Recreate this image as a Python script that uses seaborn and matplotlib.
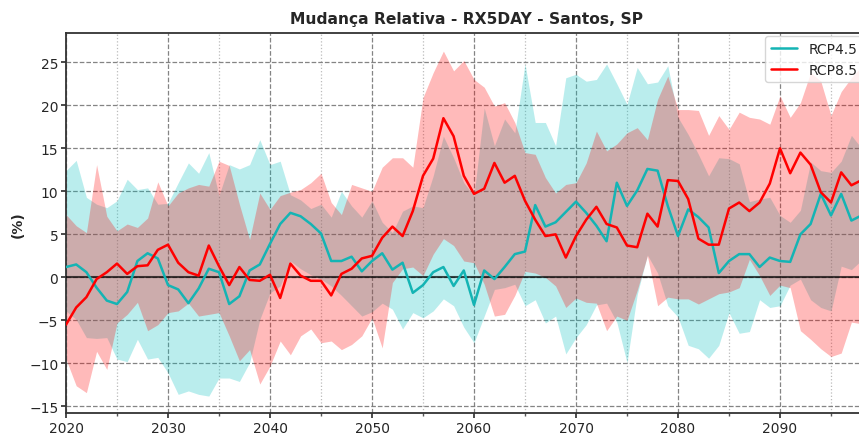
import numpy as np
import pandas as pd
import seaborn as sns
import matplotlib
matplotlib.use("Agg")
import matplotlib.pyplot as plt
from matplotlib.ticker import MultipleLocator

# Anos da projeção
years = list(range(2020, 2099))

# Média do ensemble - RCP4.5 (%)
rcp45_mean = [1.2, 1.5, 0.6, -1.2, -2.7, -3.1, -1.7, 1.9, 2.8, 2.2,
              -0.9, -1.4, -3.0, -1.3, 1.0, 0.6, -3.1, -2.2, 0.8, 1.5,
              3.9, 6.2, 7.5, 7.1, 6.2, 5.1, 1.9, 1.9, 2.4, 0.7,
              1.9, 2.8, 0.9, 1.7, -1.8, -0.9, 0.6, 1.2, -1.0, 0.8,
              -3.2, 0.8, -0.2, 1.2, 2.7, 3.0, 8.4, 5.9, 6.4, 7.6,
              8.8, 7.5, 6.0, 4.2, 11.0, 8.3, 10.1, 12.6, 12.4, 8.3,
              4.8, 7.9, 7.0, 5.8, 0.5, 1.9, 2.7, 2.7, 1.2, 2.3,
              1.9, 1.8, 5.0, 6.2, 9.7, 7.2, 9.7, 6.6, 7.2]

# Média do ensemble - RCP8.5 (%)
rcp85_mean = [-5.5, -3.5, -2.3, -0.2, 0.6, 1.6, 0.4, 1.3, 1.4, 3.2,
              3.8, 1.7, 0.6, 0.2, 3.7, 1.3, -0.9, 1.2, -0.3, -0.4,
              0.3, -2.4, 1.6, 0.2, -0.4, -0.4, -2.1, 0.4, 1.0, 2.2,
              2.5, 4.6, 5.9, 4.8, 7.7, 11.8, 13.8, 18.5, 16.4, 11.8,
              9.7, 10.3, 13.3, 11.0, 11.8, 8.9, 6.7, 4.8, 5.0, 2.3,
              4.8, 6.7, 8.2, 6.2, 5.8, 3.7, 3.5, 7.4, 5.9, 11.3,
              11.2, 9.1, 4.5, 3.8, 3.8, 8.0, 8.7, 7.7, 8.7, 10.9,
              15.0, 12.1, 14.5, 13.1, 9.9, 8.7, 12.2, 10.7, 11.3]

# Limites do ensemble - RCP4.5
rcp45_upper = [12.4, 13.6, 9.3, 8.5, 8.1, 8.9, 11.4, 10.2, 10.4, 8.5,
               8.6, 11.0, 13.3, 12.1, 14.5, 9.5, 13.1, 12.6, 13.1, 16.0,
               13.1, 13.5, 9.6, 9.0, 8.0, 8.5, 7.0, 10.0, 8.3, 7.0,
               8.9, 6.4, 5.2, 7.7, 8.3, 8.1, 11.8, 16.4, 13.9, 11.0,
               9.5, 19.7, 15.3, 18.4, 16.8, 24.8, 18.0, 18.0, 15.3, 23.2,
               23.6, 22.8, 23.0, 24.8, 22.5, 20.1, 24.4, 22.5, 22.7, 24.6,
               18.6, 16.6, 14.3, 11.8, 13.9, 13.8, 13.2, 8.8, 9.1, 9.3,
               7.2, 6.4, 7.8, 13.4, 12.4, 12.2, 13.5, 16.5, 15.0]
rcp45_lower = [-3.9, -4.9, -7.0, -7.1, -7.0, -9.5, -9.8, -7.2, -9.5, -9.3,
               -11.1, -13.6, -13.2, -13.6, -13.8, -11.7, -11.7, -12.1, -9.9, -4.9,
               -1.8, -1.0, 1.9, 1.0, 0.3, -0.2, -1.0, -2.1, -3.3, -4.5,
               -4.0, -3.0, -3.7, -6.0, -4.1, -4.7, -3.9, -2.5, -3.3, -5.8,
               -7.6, -4.5, -1.4, -1.2, -0.8, -3.3, -2.6, -5.3, -4.5, -8.9,
               -7.0, -5.5, -3.2, -3.0, -5.2, -9.9, -2.0, 2.6, 0.5, -3.3,
               -4.6, -7.9, -8.3, -9.4, -7.9, -4.1, -6.5, -6.3, -2.6, -3.5,
               -3.3, -0.9, -0.2, -2.6, -3.5, -3.9, 1.3, 0.9, 2.0]

# Limites do ensemble - RCP8.5
rcp85_upper = [7.3, 6.0, 5.2, 13.1, 7.1, 5.4, 6.2, 5.8, 6.9, 11.1,
               8.3, 9.8, 10.4, 10.8, 10.6, 13.5, 13.0, 8.5, 4.4, 9.8,
               7.9, 9.5, 9.9, 10.2, 11.0, 12.1, 8.7, 7.3, 10.8, 10.4,
               10.0, 12.8, 13.9, 13.9, 12.8, 20.9, 23.8, 26.3, 24.0, 25.2,
               23.0, 22.1, 19.9, 20.3, 18.0, 14.5, 14.3, 11.6, 9.8, 10.8,
               11.0, 13.3, 17.0, 14.7, 15.5, 16.8, 17.4, 16.0, 20.7, 23.4,
               19.5, 19.5, 19.4, 16.5, 18.8, 17.2, 19.2, 18.6, 18.4, 17.8,
               21.1, 18.6, 20.3, 23.8, 22.8, 18.8, 21.6, 23.2, 24.5]
rcp85_lower = [-9.5, -12.6, -13.4, -8.6, -10.7, -5.3, -4.3, -2.9, -6.2, -5.5,
               -4.1, -3.9, -3.0, -4.5, -4.3, -4.1, -6.8, -9.7, -8.4, -12.4,
               -10.3, -7.4, -9.0, -6.8, -6.0, -7.6, -7.4, -8.4, -7.8, -6.8,
               -4.7, -8.2, -0.6, 1.0, 1.2, 0.2, 2.7, 4.5, 3.7, 1.9,
               1.7, -0.8, -4.5, -4.3, -2.1, 0.7, 0.5, 0.0, -1.0, -3.5,
               -2.4, -2.9, -3.0, -6.2, -4.5, -5.0, -1.5, 2.5, -3.3, -2.3,
               -2.5, -2.5, -3.1, -2.5, -1.9, -1.7, -1.2, 2.1, 0.2, -2.1,
               -0.9, -1.2, -6.2, -7.2, -8.3, -9.2, -8.8, -5.2, -5.4]

scenarios = ["RCP4.5", "RCP8.5"]
line_colors = {"RCP4.5": "#14b4b4", "RCP8.5": "#ff0000"}
band_colors = {"RCP4.5": "#00bfbf", "RCP8.5": "#ff0000"}

y_ticks = [-15, -10, -5, 0, 5, 10, 15, 20, 25]
x_ticks = [2020, 2030, 2040, 2050, 2060, 2070, 2080, 2090]

df = pd.DataFrame({
    "ano": years * 2,
    "mudanca": rcp45_mean + rcp85_mean,
    "cenario": ["RCP4.5"] * len(years) + ["RCP8.5"] * len(years),
})

sns.set_theme(style="white")
plt.rcParams["font.family"] = ["DejaVu Sans"]

fig = plt.figure(figsize=(8.59, 4.35), dpi=100)
ax = fig.add_axes([66 / 859, 20.7 / 435, 816 / 859, 380.3 / 435])

# Faixas do ensemble
ax.fill_between(years, rcp45_lower, rcp45_upper, color=band_colors["RCP4.5"],
                alpha=0.27, linewidth=0, zorder=1)
ax.fill_between(years, rcp85_lower, rcp85_upper, color=band_colors["RCP8.5"],
                alpha=0.27, linewidth=0, zorder=2)

ax.axhline(0, color="black", lw=1.5, alpha=0.7, zorder=3)

sns.lineplot(data=df, x="ano", y="mudanca", hue="cenario", hue_order=scenarios,
             palette=line_colors, linewidth=1.8, ax=ax, zorder=4)

ax.set_xlim(2020, 2100)
ax.set_ylim(-15.8, 28.4)
ax.set_xticks(x_ticks)
ax.set_yticks(y_ticks)
ax.xaxis.set_minor_locator(MultipleLocator(5))

ax.grid(which="major", axis="both", linestyle="--", color="#777777",
        linewidth=0.9, alpha=0.9, zorder=0)
ax.grid(which="minor", axis="x", linestyle=":", color="#bbbbbb",
        linewidth=0.9, zorder=0)
ax.set_axisbelow(True)

ax.tick_params(axis="both", which="major", labelsize=10, length=3.5, pad=2,
               left=True, bottom=True, color="#333333")
ax.tick_params(axis="x", which="minor", length=2, bottom=True, color="#555555")

for side in ["left", "bottom", "top"]:
    ax.spines[side].set_color("#333333")
    ax.spines[side].set_linewidth(1.3)

ax.set_xlabel("")
ax.set_ylabel("(%)", fontsize=10, fontweight="bold")
ax.yaxis.set_label_coords(-0.05, 0.5)
ax.set_title("Mudança Relativa - RX5DAY - Santos, SP", fontsize=11.2,
             fontweight="bold", pad=7, x=0.491)

handles, labels = ax.get_legend_handles_labels()
ax.legend(handles, labels, loc="upper left", bbox_to_anchor=(0.857, 0.992),
          borderaxespad=0, fontsize=10, frameon=True, handlelength=1.9,
          framealpha=0.8, edgecolor="#cccccc")

fig.savefig("out.png", dpi=100)
